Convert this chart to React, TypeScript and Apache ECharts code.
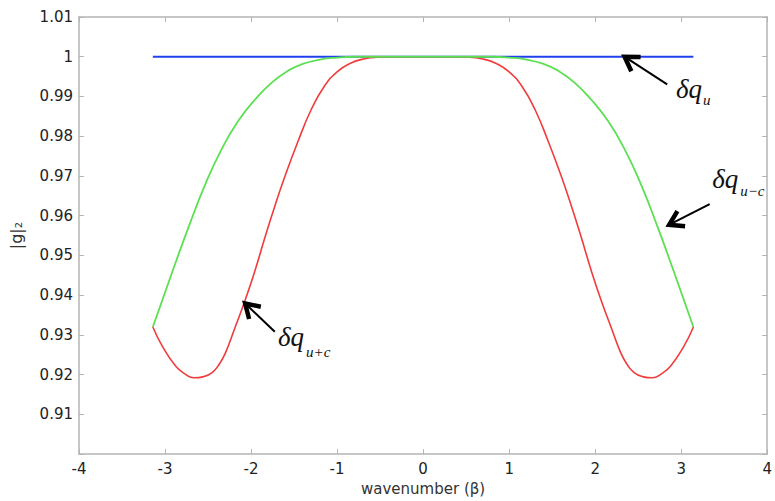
import React, { useEffect, useRef } from 'react';
import * as echarts from 'echarts';

// wavenumber (beta) samples and |g|_2 values
const blueX = [-3.1416, 3.1416];
const blueY = [1.0, 1.0];

const greenX = [-3.1416, -2.91, -2.72, -2.53, -2.34, -2.15, -1.95, -1.76, -1.57, -1.4, -1.2, -1.0, -0.8, -0.5, 0, 0.5, 0.8, 1.0, 1.2, 1.4, 1.57, 1.76, 1.95, 2.15, 2.34, 2.53, 2.72, 2.91, 3.1416];
const greenY = [0.932, 0.9462, 0.9575, 0.968, 0.9768, 0.9838, 0.9893, 0.9935, 0.9965, 0.9982, 0.9993, 0.9998, 1.0, 1.0, 1.0, 1.0, 1.0, 0.9998, 0.9993, 0.9982, 0.9965, 0.9935, 0.9893, 0.9838, 0.9768, 0.968, 0.9575, 0.9462, 0.932];

const redX = [-3.1416, -3.03, -2.875, -2.77, -2.664, -2.55, -2.453, -2.37, -2.299, -2.184, -2.069, -1.954, -1.839, -1.724, -1.6, -1.456, -1.303, -1.15, -1.0, -0.85, -0.7, -0.535, -0.3, 0, 0.3, 0.535, 0.7, 0.85, 1.0, 1.15, 1.303, 1.456, 1.6, 1.724, 1.839, 1.954, 2.069, 2.184, 2.299, 2.37, 2.453, 2.55, 2.664, 2.77, 2.875, 3.03, 3.1416];
const redY = [0.932, 0.9271, 0.9221, 0.9202, 0.9192, 0.9195, 0.9205, 0.9226, 0.9254, 0.932, 0.9387, 0.9462, 0.9545, 0.9624, 0.9703, 0.9786, 0.9866, 0.9925, 0.9962, 0.9983, 0.9994, 0.9999, 1.0, 1.0, 1.0, 0.9999, 0.9994, 0.9983, 0.9962, 0.9925, 0.9866, 0.9786, 0.9703, 0.9624, 0.9545, 0.9462, 0.9387, 0.932, 0.9254, 0.9226, 0.9205, 0.9195, 0.9192, 0.9202, 0.9221, 0.9271, 0.932];

// annotation arrows: [headX, headY, tailX, tailY] in data coordinates
const arrows = [
  [2.342, 1.0, 2.837, 0.99303],
  [2.86, 0.9577, 3.331, 0.9629],
  [-2.069, 0.9379, -1.724, 0.9308],
];
// annotation labels: anchor in data coords, subscript text and its offset
const labelAnchorX = [2.94, 3.36, -1.686];
const labelAnchorY = [0.99179, 0.96915, 0.92935];
const labelSubs = ['u', 'u\u2212c', 'u+c'];
const labelSubDx = [27, 28, 28];
const labelSubDy = [11, 12, 15];

const pairs = (xs: number[], ys: number[]) => xs.map((x, i) => [x, ys[i]]);

const AXIS_COLOR = '#b4b4b4';
const FONT = 'DejaVu Sans';

export default function App() {
  const ref = useRef<HTMLDivElement>(null);
  useEffect(() => {
    document.body.style.margin = '0';
    document.body.style.overflow = 'hidden';
    if (!ref.current) return;
    const chart = echarts.init(ref.current, undefined, { renderer: 'svg' });
    const axisCommon = {
      type: 'value' as const,
      axisLine: { show: true, onZero: false, lineStyle: { color: AXIS_COLOR, width: 1.5 } },
      axisTick: { show: true, inside: true, length: 5, lineStyle: { color: AXIS_COLOR, width: 1 } },
      splitLine: { show: false },
    };
    chart.setOption({
      animation: false,
      backgroundColor: '#ffffff',
      grid: { left: 79, right: 1, top: 17, bottom: 42 },
      xAxis: [
        {
          ...axisCommon,
          min: -4, max: 4, interval: 1,
          position: 'bottom',
          name: 'wavenumber (\u03b2)',
          nameLocation: 'middle',
          nameGap: 25,
          nameTextStyle: { fontFamily: FONT, fontSize: 15, color: '#333' },
          axisLabel: { fontFamily: FONT, fontSize: 15, color: '#222', margin: 7 },
        },
        {
          ...axisCommon,
          min: -4, max: 4, interval: 1,
          position: 'top',
          axisLabel: { show: false },
        },
      ],
      yAxis: [
        {
          ...axisCommon,
          min: 0.9, max: 1.01, interval: 0.01,
          position: 'left',
          name: '|g|\u2082',
          nameLocation: 'middle',
          nameGap: 55,
          nameTextStyle: { fontFamily: FONT, fontSize: 16, color: '#333' },
          axisLabel: {
            fontFamily: FONT, fontSize: 15, color: '#222', margin: 6,
            formatter: (v: number) => (Math.abs(v - 0.9) < 1e-6 ? '' : String(+v.toFixed(2))),
          },
        },
        {
          ...axisCommon,
          min: 0.9, max: 1.01, interval: 0.01,
          position: 'right',
          axisLabel: { show: false },
        },
      ],
      series: [
        {
          type: 'line', data: pairs(blueX, blueY), showSymbol: false,
          lineStyle: { color: '#2040f0', width: 2 }, z: 2,
        },
        {
          type: 'line', data: pairs(redX, redY), showSymbol: false, smooth: 0.5,
          lineStyle: { color: '#f03c3c', width: 1.6 }, z: 3,
        },
        {
          type: 'line', data: pairs(greenX, greenY), showSymbol: false, smooth: 0.5,
          lineStyle: { color: '#5ce052', width: 1.8 }, z: 4,
        },
      ],
    });

    const toPx = (x: number, y: number) => chart.convertToPixel({ gridIndex: 0 }, [x, y]) as number[];
    const graphics: any[] = [];
    arrows.forEach(([hx, hy, tx, ty]) => {
      const h = toPx(hx, hy);
      const t = toPx(tx, ty);
      const dx = t[0] - h[0];
      const dy = t[1] - h[1];
      const len = Math.sqrt(dx * dx + dy * dy);
      const ux = dx / len;
      const uy = dy / len;
      const arm = 16;
      const ang = (32 * Math.PI) / 180;
      const rot = (a: number) => [ux * Math.cos(a) - uy * Math.sin(a), ux * Math.sin(a) + uy * Math.cos(a)];
      const a1 = rot(ang);
      const a2 = rot(-ang);
      graphics.push({
        type: 'line',
        shape: { x1: h[0] + ux * 3, y1: h[1] + uy * 3, x2: t[0], y2: t[1] },
        style: { stroke: '#000', lineWidth: 2 },
        z: 10,
      });
      graphics.push({
        type: 'polyline',
        shape: {
          points: [
            [h[0] + a1[0] * arm, h[1] + a1[1] * arm],
            [h[0], h[1]],
            [h[0] + a2[0] * arm, h[1] + a2[1] * arm],
          ],
        },
        style: { stroke: '#000', lineWidth: 4.5, fill: null, lineJoin: 'miter' },
        z: 10,
      });
    });
    labelAnchorX.forEach((ax, i) => {
      const p = toPx(ax, labelAnchorY[i]);
      graphics.push({
        type: 'text', x: p[0], y: p[1],
        style: {
          text: '\u03b4q', fontFamily: 'Liberation Serif', fontStyle: 'italic', fontSize: 27,
          fill: '#111', verticalAlign: 'middle', align: 'left',
        },
        z: 10,
      });
      graphics.push({
        type: 'text', x: p[0] + labelSubDx[i], y: p[1] + labelSubDy[i],
        style: {
          text: labelSubs[i], fontFamily: 'Liberation Serif', fontStyle: 'italic', fontSize: 15,
          fill: '#111', verticalAlign: 'middle', align: 'left',
        },
        z: 10,
      });
    });
    chart.setOption({ graphic: graphics });
    return () => chart.dispose();
  }, []);
  return <div ref={ref} style={{ width: '100vw', height: '100vh' }} />;
}
